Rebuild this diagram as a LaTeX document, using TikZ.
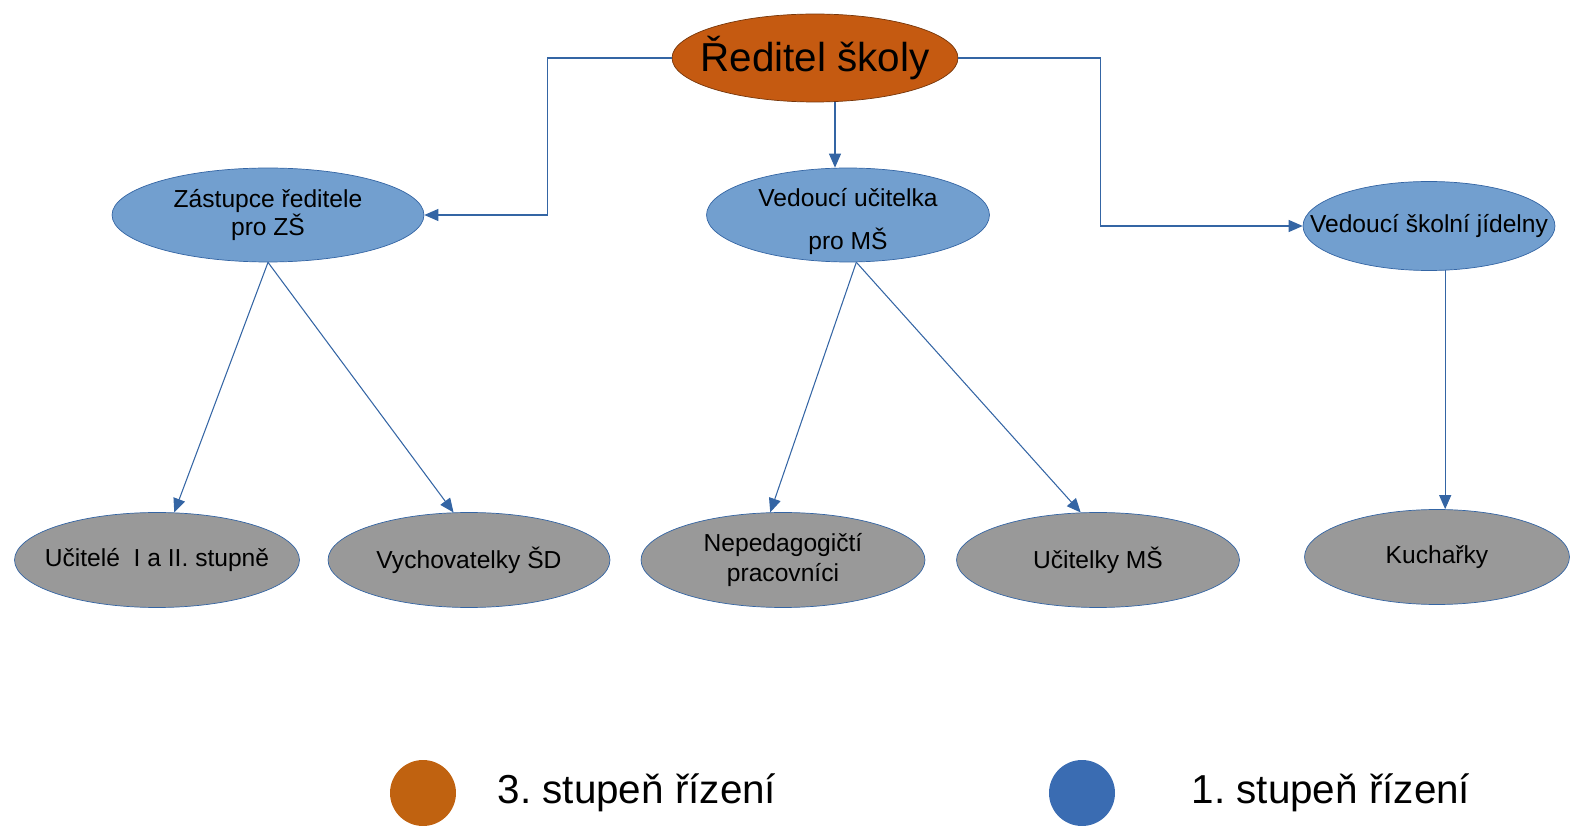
\documentclass[tikz,border=0pt]{standalone}
\usepackage{fontspec}
\setmainfont{Liberation Sans}
\usetikzlibrary{shapes.geometric,arrows.meta,positioning}
\definecolor{ridorange}{RGB}{197,90,17}
\definecolor{legorange}{RGB}{192,98,16}
\definecolor{nodeblue}{RGB}{114,159,207}
\definecolor{legblue}{RGB}{58,108,178}
\definecolor{linkblue}{RGB}{52,101,164}
\definecolor{staffgray}{RGB}{153,153,153}
\tikzset{
  boss/.style={ellipse,draw=ridorange!60!black,fill=ridorange,inner xsep=-0.6cm,inner ysep=0pt,minimum width=5.72cm,minimum height=1.76cm,font=\fontsize{23}{27}\selectfont},
  head/.style={ellipse,draw=linkblue,fill=nodeblue,inner xsep=-0.6cm,inner ysep=-0.3cm,align=center,font=\fontsize{14}{16.5}\selectfont},
  staff/.style={ellipse,draw=linkblue,fill=staffgray,inner xsep=-0.6cm,inner ysep=0pt,align=center,minimum height=1.9cm,font=\fontsize{14}{17}\selectfont},
  link/.style={color=linkblue,line width=0.6pt,-{Triangle[length=0.28cm,width=0.24cm]}},
  legdot/.style={ellipse,inner sep=0pt,minimum width=1.32cm,minimum height=1.32cm},
  legtext/.style={inner sep=0pt,font=\fontsize{23}{27}\selectfont}
}
\begin{document}
\begin{tikzpicture}[x=0.02cm,y=-0.02cm]
            \useasboundingbox (0,0) rectangle (1570,827);
            % vedeni
            \node [boss] (R) at (815,58) {Ředitel školy};
            \node [head,minimum width=6.24cm,minimum height=1.88cm] (Z) at (268,215) {Zástupce ředitele\\pro ZŠ};
            \node [head,minimum width=5.66cm,minimum height=1.88cm] (L) at (848,215) {\rule{0pt}{18pt}Vedoucí učitelka\\[8pt]pro MŠ};
            \node [head,minimum width=5.04cm,minimum height=1.78cm] (J) at (1429,226) {Vedoucí školní jídelny};

            % zamestnanci
            \node [staff,minimum width=5.7cm] (U) at (157,560) {Učitelé\ \ I a II. stupně};
            \node [staff,minimum width=5.64cm] (V) at (469,560) {Vychovatelky ŠD};
            \node [staff,minimum width=5.68cm] (N) at (783,560) {Nepedagogičtí\\pracovníci};
            \node [staff,minimum width=5.66cm] (M) at (1098,560) {Učitelky MŠ};
            \node [staff,minimum width=5.3cm] (K) at (1437,557) {Kuchařky};

            \draw[link] (R.west) -- ++(-124,0) |- (Z.east);
            \draw[link] (R.south) ++(20,0) -- (L.north -| 835,0);
            \draw[link] (R.east) -- ++(142,0) |- (J.west);
            \draw[link] (Z.south) -- (U.70);
            \draw[link] (Z.south) -- (V.108);
            \draw[link] (L.-80) -- (N.105);
            \draw[link] (L.-80) -- (M.110);
            \draw[link] (J.-70) -- (J.-70 |- K.north);

            % legenda
            \node [legdot,fill=legorange] (L3) at (423,793) {};
            \node [legtext,right=0.82cm of L3] (T3) {3.\ stupeň řízení};
            \node [legdot,fill=legblue] (L1) at (1082,793) {};
            \node [legtext,right=1.52cm of L1] (T1) {1.\ stupeň řízení};
\end{tikzpicture}
\end{document}
